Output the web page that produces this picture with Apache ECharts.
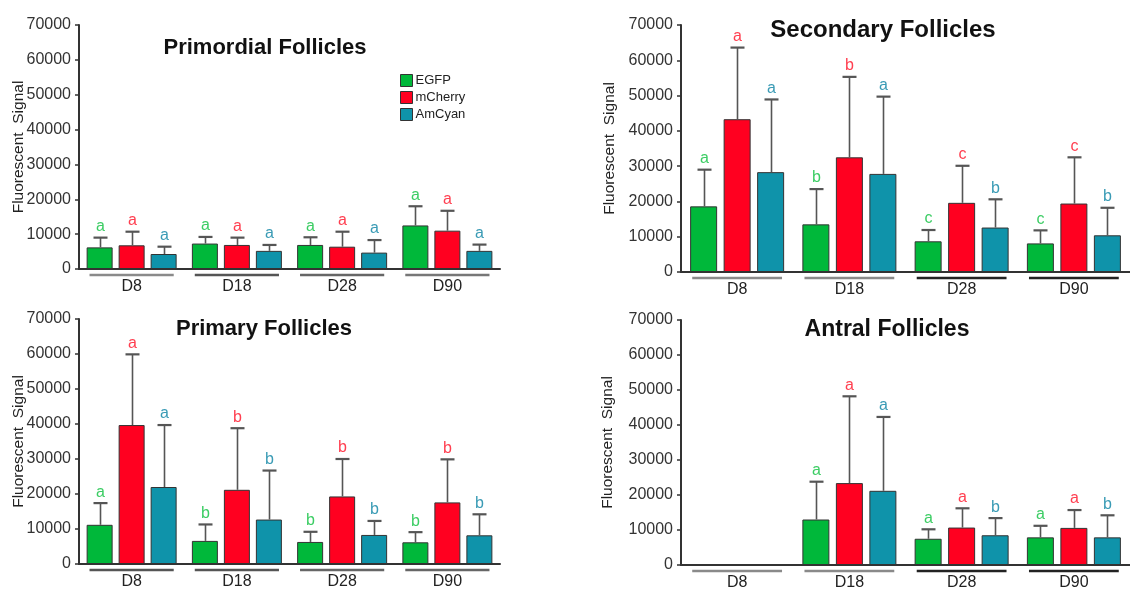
<!DOCTYPE html>
<html>
<head>
<meta charset="utf-8">
<script src="https://cdn.jsdelivr.net/npm/echarts@6/dist/echarts.min.js"></script>
<style>html,body{margin:0;padding:0;background:#fff}#c{width:1130px;height:591px}</style>
</head>
<body>
<div id="c"></div>
<script>
// ---- data ----
var categories = ['D8', 'D18', 'D28', 'D90'];
var seriesNames = ['EGFP', 'mCherry', 'AmCyan'];
var yTicks = [0, 10000, 20000, 30000, 40000, 50000, 60000, 70000];

// Primordial follicles
var pmdEGFP = [6200, 7300, 6900, 12500];
var pmdEGFPErr = [9000, 9200, 9100, 18000];
var pmdMCherry = [6800, 6900, 6400, 11000];
var pmdMCherryErr = [10700, 9000, 10700, 16700];
var pmdAmCyan = [4300, 5200, 4700, 5200];
var pmdAmCyanErr = [6400, 6900, 8300, 7000];
var pmdLetters = [['a', 'a', 'a', 'a'], ['a', 'a', 'a', 'a'], ['a', 'a', 'a', 'a']];

// Secondary follicles
var secEGFP = [18600, 13500, 8700, 8100];
var secEGFPErr = [29000, 23500, 11900, 11800];
var secMCherry = [43300, 32500, 19600, 19400];
var secMCherryErr = [63600, 55300, 30100, 32500];
var secAmCyan = [28300, 27800, 12600, 10400];
var secAmCyanErr = [48900, 49700, 20600, 18200];
var secLetters = [['a', 'b', 'c', 'c'], ['a', 'b', 'c', 'c'], ['a', 'a', 'b', 'b']];

// Primary follicles
var priEGFP = [11200, 6600, 6300, 6200];
var priEGFPErr = [17400, 11300, 9200, 9100];
var priMCherry = [39700, 21200, 19300, 17600];
var priMCherryErr = [59900, 38800, 30000, 29900];
var priAmCyan = [22000, 12700, 8300, 8200];
var priAmCyanErr = [39700, 26700, 12300, 14200];
var priLetters = [['a', 'b', 'b', 'b'], ['a', 'b', 'b', 'b'], ['a', 'b', 'b', 'b']];

// Antral follicles
var antEGFP = [null, 13000, 7500, 7900];
var antEGFPErr = [null, 23800, 10200, 11200];
var antMCherry = [null, 23400, 10700, 10600];
var antMCherryErr = [null, 48200, 16200, 15700];
var antAmCyan = [null, 21200, 8500, 7900];
var antAmCyanErr = [null, 42300, 13400, 14200];
var antLetters = [['', 'a', 'a', 'a'], ['', 'a', 'a', 'a'], ['', 'a', 'b', 'b']];

// ---- styles / layout ----
var barColors = ['#00b83a', '#ff0020', '#0f93aa'];
var letterColors = ['#3ccd64', '#ff3f50', '#3a9bb5'];
var FONT = '"Liberation Sans", Arial, sans-serif';

var panels = [
  { title: 'Primordial Follicles', vals: [pmdEGFP, pmdMCherry, pmdAmCyan], errs: [pmdEGFPErr, pmdMCherryErr, pmdAmCyanErr], letters: pmdLetters,
    grid: { left: 79, top: 25, width: 421, height: 244 }, titleX: 265, titleY: 37, titleSize: 22, barW: 26, gap: 6, nameGap: 52,
    ulColors: ['#8a8a8a', '#555', '#666', '#777'] },
  { title: 'Secondary Follicles', vals: [secEGFP, secMCherry, secAmCyan], errs: [secEGFPErr, secMCherryErr, secAmCyanErr], letters: secLetters,
    grid: { left: 681, top: 25, width: 458, height: 247 }, titleX: 883, titleY: 18, titleSize: 24, barW: 27, gap: 6.5, nameGap: 63,
    ulColors: ['#8a8a8a', '#8a8a8a', '#222', '#222'] },
  { title: 'Primary Follicles', vals: [priEGFP, priMCherry, priAmCyan], errs: [priEGFPErr, priMCherryErr, priAmCyanErr], letters: priLetters,
    grid: { left: 79, top: 319, width: 421, height: 245 }, titleX: 264, titleY: 318, titleSize: 22, barW: 26, gap: 6, nameGap: 52,
    ulColors: ['#555', '#555', '#666', '#666'] },
  { title: 'Antral Follicles', vals: [antEGFP, antMCherry, antAmCyan], errs: [antEGFPErr, antMCherryErr, antAmCyanErr], letters: antLetters,
    grid: { left: 681, top: 320, width: 449, height: 246 }, titleX: 887, titleY: 318, titleSize: 23, barW: 27, gap: 6.5, nameGap: 65,
    ulColors: ['#8a8a8a', '#8a8a8a', '#222', '#222'] }
];

var option = {
  animation: false,
  backgroundColor: '#fff',
  title: [], grid: [], xAxis: [], yAxis: [], series: [],
  legend: {
    data: seriesNames, orient: 'vertical', left: 400, top: 74, itemWidth: 12, itemHeight: 12, itemGap: 4, padding: 0,
    icon: 'rect', textStyle: { fontFamily: FONT, fontSize: 13, color: '#222', padding: [0, 0, 0, -2] },
    itemStyle: { borderColor: '#333', borderWidth: 1 }
  }
};

panels.forEach(function (p, pi) {
  option.title.push({ text: p.title, left: p.titleX, top: p.titleY, textAlign: 'center', padding: 0,
    textStyle: { fontFamily: FONT, fontWeight: 'bold', fontSize: p.titleSize, color: '#111' } });
  option.grid.push(p.grid);
  option.xAxis.push({ type: 'category', gridIndex: pi, data: categories,
    axisLine: { lineStyle: { color: '#333', width: 2 } }, axisTick: { show: false },
    axisLabel: { margin: 10, fontFamily: FONT, fontSize: 16, color: '#222' } });
  option.yAxis.push({ type: 'value', gridIndex: pi, min: 0, max: 70000, interval: 10000,
    name: 'Fluorescent  Signal', nameLocation: 'middle', nameRotate: 90, nameGap: p.nameGap, nameMoveOverlap: false,
    nameTextStyle: { fontFamily: FONT, fontSize: 15.5, color: '#222' },
    axisLine: { show: true, lineStyle: { color: '#333', width: 2 } },
    axisTick: { show: true, length: 4, lineStyle: { color: '#333', width: 1.5 } },
    splitLine: { show: false },
    axisLabel: { margin: 8, fontFamily: FONT, fontSize: 16, color: '#333',
      formatter: function (v) { return yTicks.indexOf(v) >= 0 ? String(v) : ''; } } });

  var gapRatio = p.gap / p.barW;
  for (var k = 0; k < 3; k++) {
    option.series.push({ type: 'bar', name: seriesNames[k], xAxisIndex: pi, yAxisIndex: pi,
      data: p.vals[k], barWidth: p.barW, barGap: (gapRatio * 100) + '%',
      itemStyle: { color: barColors[k], borderColor: '#333', borderWidth: 1 }, z: 2 });
  }

  // error bars + significance letters
  var errData = [];
  for (var k2 = 0; k2 < 3; k2++) {
    for (var c = 0; c < categories.length; c++) {
      if (p.vals[k2][c] != null) errData.push([c, k2, p.vals[k2][c], p.errs[k2][c]]);
    }
  }
  (function (p) {
    option.series.push({ type: 'custom', xAxisIndex: pi, yAxisIndex: pi, z: 4, clip: false,
      encode: { x: 0, y: 3 }, data: errData,
      renderItem: function (params, api) {
        var c = api.value(0), k = api.value(1), v = api.value(2), e = api.value(3);
        var p0 = api.coord([c, v]);
        var p1 = api.coord([c, e]);
        var x = Math.round(p0[0] + (k - 1) * (p.barW + p.gap)) + 0.5;
        return { type: 'group', children: [
          { type: 'line', shape: { x1: x, y1: p0[1], x2: x, y2: p1[1] }, style: { stroke: '#555', lineWidth: 1.6 } },
          { type: 'line', shape: { x1: x - 7, y1: p1[1], x2: x + 7, y2: p1[1] }, style: { stroke: '#555', lineWidth: 2.2 } },
          { type: 'text', x: x, y: p1[1] - 3, style: { text: p.letters[k][c], fill: letterColors[k],
              font: '16px ' + FONT, align: 'center', verticalAlign: 'bottom' } }
        ] };
      } });
    // category underlines
    option.series.push({ type: 'custom', xAxisIndex: pi, yAxisIndex: pi, z: 4, clip: false,
      encode: { x: 0, y: 1 }, data: categories.map(function (name, i) { return [i, 0]; }),
      renderItem: function (params, api) {
        var c = api.value(0);
        var pt = api.coord([c, 0]);
        var w = api.size([1, 0])[0];
        return { type: 'line', shape: { x1: pt[0] - 0.4 * w, y1: pt[1] + 6, x2: pt[0] + 0.4 * w, y2: pt[1] + 6 },
          style: { stroke: p.ulColors[c], lineWidth: 2.5 } };
      } });
  })(p);
});

var chart = echarts.init(document.getElementById('c'), null, { renderer: 'canvas' });
chart.setOption(option);
</script>
</body>
</html>
